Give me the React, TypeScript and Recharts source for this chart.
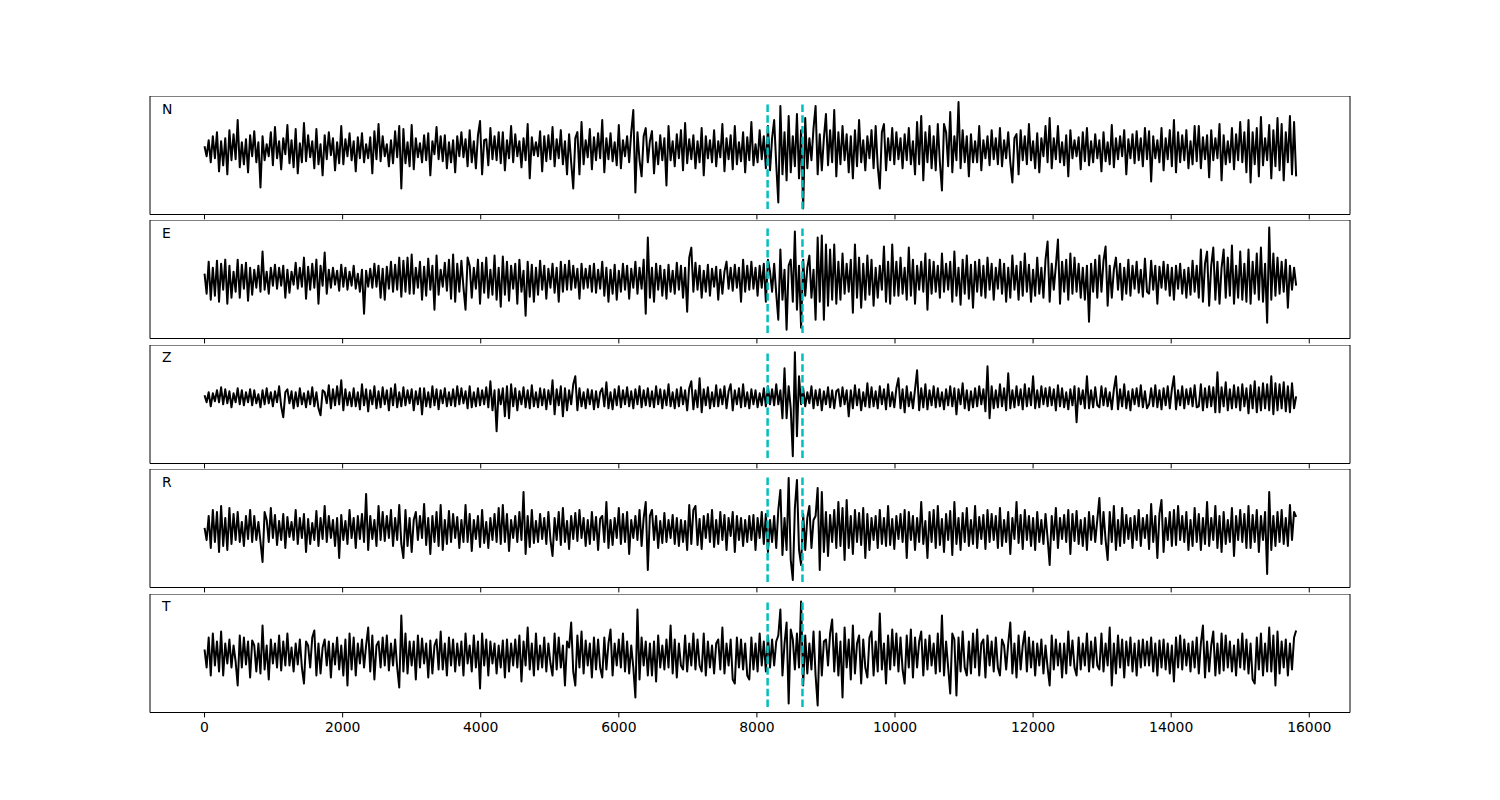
import { LineChart, Line, XAxis, YAxis, ReferenceLine, ReferenceArea } from "recharts";

// sample spacing of the traces (time units on the x axis)
const DT = 30;
const xTicks = [0, 2000, 4000, 6000, 8000, 10000, 12000, 14000, 16000];
const picks = [8155, 8660];

const traceN = [
  4, -6, 10, -12, 14, -8, 18, -21, 9, -15, 12, -24, 20, -10, 16, -9, 30, -17, 8, -14, 11, -22, 15, -6,
  19, -12, 8, -37, 14, -10, 6, -6, 18, -15, 23, -8, 9, -19, 12, -4, 25, -13, 10, -17, 21, -23, 7, -12,
  27, -11, 15, -7, 9, -18, 21, -14, 6, -25, 15, -9, 18, -5, 12, -20, 8, -13, 24, -14, 11, -6, 17, -10,
  9, -21, 13, -8, 17, -12, 6, -8, 13, -23, 19, -9, 26, -11, 14, -6, 6, -16, 10, -13, 19, -7, 24, -38,
  21, -13, 8, -16, 25, -19, 12, -7, 7, -12, 15, -10, 17, -25, 9, -4, 23, -9, 14, -11, 15, -18, 8, -12,
  10, -22, 14, -6, 18, -7, 11, -16, 20, -12, 9, -18, 15, 29, -24, 10, 11, -15, 22, -9, 14, -10, 18, -13,
  18, -20, 10, -8, 24, -12, 16, -6, 9, -17, 12, -10, 26, -28, 13, -5, 8, -6, 19, -21, 14, -11, 15, -9,
  23, -16, 11, -8, 20, -14, 9, -24, 16, -12, -38, 12, 18, -24, 28, -14, 10, -7, 21, -19, 13, -10, 17, -8,
  30, -22, 12, -9, 17, -11, 8, -15, 25, -18, 10, -6, 14, -12, 18, 40, -42, 18, -10, -26, 14, 22, -12, 9,
  19, -23, 8, -14, 15, -10, 12, -35, 24, -10, 9, -16, 16, -8, 20, -20, 27, -13, 11, -9, 15, -18, 9, -12,
  22, -25, 14, -8, 10, -12, 20, -16, 9, -7, 26, -21, 12, -9, 15, -19, 24, -14, 8, -11, 18, -22, 13, -10,
  28, -15, 6, -12, 20, -9, 14, -18, 24, -20, 12, 30, -14, -52, 44, -24, 18, -30, 34, -22, 14, -16, 36, -28,
  20, -58, 32, -18, 12, -10, 22, 44, -24, 16, -20, 12, 36, -15, 20, -12, 40, -26, 18, -14, 24, -10, 16, -22,
  14, -28, 20, -16, 30, -12, 10, -20, 14, -8, 20, -18, 24, -16, -38, 18, 26, -20, 12, -10, 22, -14, 18, -9,
  12, -18, 16, -10, 22, -14, 9, -24, 28, -14, 34, -30, 18, -12, 24, -18, 14, -20, 26, -12, -40, 26, 18, -16,
  38, -22, 14, -10, 48, -18, 20, -12, 14, -26, 16, -12, 9, -12, 24, -20, 10, -8, 14, -15, 20, -9, 12, -14,
  22, -16, 10, -8, 18, -12, -32, 12, 16, -24, 20, -10, 14, -14, 26, -10, 9, -18, 17, -22, 12, -6, 24, -12,
  32, -18, 12, -9, 24, -12, 8, -15, 15, -26, 20, -8, 10, -6, 13, -19, 18, -11, 22, -15, 9, -12, 16, -8,
  10, -21, 18, -11, 8, -14, 25, -17, 12, -9, 14, -6, 20, -24, 11, -8, 16, -13, 19, -10, 12, -16, 22, -9,
  19, -31, 14, -8, 10, -12, 22, -20, 12, -9, 20, -16, 30, -22, 18, -12, 15, -10, 20, -18, 9, -14, 24, -11,
  24, -18, 13, -9, 15, -27, 20, -10, 12, -8, 26, -30, 15, -14, 9, -12, 22, -19, 16, -10, 28, -12, 18, -22,
  30, -32, 18, -14, 22, -26, 33, -15, 12, -10, 25, -28, 20, -16, 32, -20, 26, -30, 18, -12, 34, -24, 28, -26,
];

const traceE = [
  6, -14, 18, -20, 12, -16, 19, -22, 16, -10, 20, -24, 14, -18, 8, -12, 20, -18, 15, -9, 17, -21, 12, -15,
  10, -8, 14, -12, 28, -10, 8, -14, 12, -6, 15, -9, 12, -6, 14, -18, 10, -13, 8, -5, 17, -9, 12, -7,
  22, -19, 13, -10, 16, -8, 20, -24, 14, -6, 27, -14, 10, -8, 12, -5, 9, -11, 15, -7, 12, -10, 8, -6,
  14, -9, 6, -12, 10, -34, 9, -7, 11, -8, 16, -7, 14, -18, 11, -20, 13, -9, 18, -12, 15, -10, 22, -17,
  19, -12, 22, -14, 25, -14, 12, -8, 18, -20, 13, -16, 21, -10, 14, -30, 24, -15, 10, -7, 17, -11, 20, -19,
  25, -22, 16, -12, 19, -8, -30, 22, 14, -18, 12, -9, 20, -24, 17, -13, 22, -18, 10, -15, 24, -20, 12, -27,
  23, -15, 18, -21, 14, -9, 16, -24, 20, -12, 9, -36, 18, -17, 15, -22, 12, -15, 19, -10, 14, -19, 11, -8,
  16, -13, 12, -22, 18, -12, 15, -10, 19, -10, 14, -8, 11, -19, 16, -9, 11, -8, 14, -12, 16, -13, 10, -9,
  18, -16, 12, -22, 10, -14, 15, -20, 9, -12, 16, -10, 14, -19, 11, -8, 18, -14, 12, -9, 20, -34, 42, -18,
  12, -22, 16, -10, 14, -16, 10, -19, 15, -12, 9, -14, 17, -10, 14, -18, 12, -32, 22, 32, -12, 17, -10, 14,
  -18, 9, -12, 15, -16, 11, -7, 13, -20, 10, -14, 8, 18, -9, 12, -11, 15, -8, 12, -22, 20, -12, 14, -10,
  18, -9, 12, -16, 14, -8, 16, -22, 20, 8, -12, 16, -14, -40, 30, -20, 10, -50, 14, 20, -22, 48, -30, 14,
  -48, 20, -16, 12, 24, -18, 10, -40, 42, -22, 44, -40, 35, -26, 30, -20, 35, -24, 18, -20, 26, -14, 16, -12,
  20, -33, 35, -18, 22, -28, 16, -20, 24, -15, 20, -26, 12, -18, 14, -10, 33, -22, 18, -24, 35, -16, 18, -16,
  22, -14, 12, -20, 32, -16, 20, -24, 14, -10, 18, -12, 26, -30, 20, -14, 18, -12, 14, -18, 26, -12, 16, -10,
  18, -22, 28, -16, 12, -25, 20, -14, 24, -19, 15, -28, 18, -12, 20, -16, 14, -18, 22, -10, 16, -20, 12, -9,
  20, -14, 16, -22, 12, -18, 24, -10, 14, -20, 18, -16, 26, -12, 15, -22, 10, -16, 22, -14, 12, -18, 20, 38,
  -22, 16, -10, 14, 40, -24, 18, -12, 20, -20, 26, -14, 22, -12, 16, -18, 12, -20, 14, -42, 16, -12, 20, -18,
  24, -12, 19, 33, -26, 14, -18, 10, 22, -10, 16, -20, 12, -14, 20, -16, 14, -9, 18, -13, 10, -17, 21, -12,
  -14, 19, -10, 14, -24, 13, -8, 18, -10, 15, -16, 12, -20, 14, -9, 16, -14, 10, -18, 12, -15, 19, -12, 14,
  -18, 30, -22, 16, 28, -26, 14, 32, -20, 18, -24, 12, 30, -18, 22, -16, 34, -24, 14, -18, 28, -20, 16, -22,
  30, -24, 18, -14, 26, -20, 32, -22, 16, -43, 52, -20, 26, -16, 22, -14, 18, -12, 20, -28, 14, -10, 12, -6,
];

const traceZ = [
  3, -4, 6, -8, 5, -3, 8, -4, 11, -6, 9, -5, 7, -9, 5, -4, 10, -6, 8, -7, 6, -4, 9, -7,
  8, -5, 4, -9, 8, -6, 10, -5, 6, -8, 7, -4, 12, -8, -19, 6, 9, -5, 7, -10, 6, -8, 10, -6,
  5, -9, 7, -6, 11, -8, 6, -10, -17, 8, 6, -5, 13, -10, 9, -7, 12, -6, 18, -12, 9, -7, 6, -8,
  10, -8, 6, -11, 14, -7, 9, -13, 8, -6, 12, -10, 7, -9, 11, -6, 8, -12, 10, -7, 14, -9, 6, -8,
  11, -7, 8, -5, 9, -12, 7, -6, 10, -16, 10, -8, 6, -9, 12, -7, 9, -11, 8, -5, 10, -8, 6, -7,
  9, -8, 12, -6, 10, -5, 7, -10, 12, -9, 6, -8, 10, -7, 8, -6, 11, -9, 17, -12, 8, -33, 9, -6,
  10, -18, 12, -20, 14, -8, 10, -12, 7, -6, 11, -9, 8, -10, 13, -8, 6, -9, 10, -7, 9, -11, 8, -6,
  18, -16, 9, -7, 12, -18, 10, -12, 8, -6, 14, 22, -12, 10, -8, 6, -10, 9, -6, 8, -11, 7, -9, 6,
  10, -8, 16, -10, 6, -11, 9, -7, 12, -9, 8, -6, 11, -8, 7, -10, 9, -6, 12, -9, 8, -7, 10, -8,
  7, -9, 12, -6, 9, -10, 8, -7, 14, -8, 6, -10, 9, -8, 11, -6, 8, -12, 10, 17, -11, 8, -9, 20,
  -14, 9, -7, 11, -10, 6, -8, 13, -8, 9, -6, 12, -10, 7, 14, -12, 8, -6, 10, -9, 14, -8, 6, -10,
  9, -6, 8, -9, 5, -7, 10, -8, 12, -6, 9, -7, 14, -6, 8, -20, 30, -20, 12, -10, -58, 46, -38, 22,
  -6, 10, -8, 6, -5, 12, -10, 8, -7, 9, -12, 7, -6, 11, -9, 8, -10, 7, 9, -8, 11, -6, 8, -18,
  8, -10, 13, -7, 9, -12, 6, -8, 15, -9, 11, -8, 7, -10, 12, -6, 9, -11, 14, -8, 6, -9, 10, 20,
  -10, 9, -14, 12, -8, 6, -10, 9, 28, -12, 10, -9, 14, -11, 8, -7, 12, -9, 10, -8, 6, -11, 9, -7,
  12, -8, 10, -16, 9, -6, 15, -10, 8, -12, 7, -9, 10, -8, 12, -6, 9, -13, 32, -20, 12, -10, 8, -9,
  14, -8, 10, -12, 25, -10, 8, -9, 12, -7, 9, -11, 14, -8, 10, -7, 22, -10, 8, -9, 12, -6, 10, -8,
  11, -7, 9, -12, 13, -8, 10, -9, 6, -11, 9, -7, 12, -24, 10, -6, 8, -10, 22, -10, 8, -9, 11, -7,
  -9, 12, -7, 10, -8, 6, -11, 9, 22, -11, 9, -8, 14, -10, 7, -12, 9, -6, 10, -8, 13, -9, 7, -10,
  -6, 10, -8, 13, -9, 8, -11, 10, -7, 12, -10, 9, 22, -11, 8, -7, 12, -10, 9, -6, 10, -8, 13, -9,
  -8, 14, -12, 10, -9, 12, -8, 11, -14, 26, -14, 11, -8, 16, -12, 9, -10, 13, -9, 11, -12, 14, -8, 10,
  -15, 13, -10, 17, -14, 11, -12, 15, -10, 14, -12, 22, -16, 15, -12, 14, -10, 16, -13, 12, -14, 15, -10, 2,
];

const traceR = [
  2, -10, 14, -18, 20, -12, 18, -22, 24, -16, 12, -20, 22, -14, 16, -10, 18, -12, 8, -16, 14, -9, 20, -12,
  14, -10, 8, -12, -32, 18, 10, -12, 22, -8, 15, -15, 9, -10, 16, -18, 13, -7, 8, -10, 20, -14, 12, -8,
  16, -22, 11, -14, 7, -10, 19, -16, 12, -9, 24, -12, 14, -8, 10, -16, 12, -28, 15, -10, 9, -14, 20, -8,
  12, -18, 14, -9, 16, -12, 36, -20, 14, -9, 10, -16, 24, -10, 18, -11, 14, -8, 20, -16, 12, -10, 25, -14,
  -28, 20, -16, 12, -22, 10, 18, -10, 14, -8, 26, -15, 12, -24, 14, -12, 18, -16, 25, -20, 10, -14, 19, -12,
  16, -8, 13, -18, 10, -12, 25, -12, 16, -21, 10, -9, 14, -17, 20, -13, 8, -18, 12, -10, 16, -12, 22, -14,
  25, -12, 16, -21, 10, -8, 14, -12, 18, -10, 38, -24, 14, -17, 20, -13, 9, -12, 16, -9, 12, -14, 18, -10,
  -26, 12, -10, 18, -15, 22, -12, 9, -19, 14, -9, 17, -11, 20, -8, 12, -16, 10, -14, 18, -10, 13, -20, 11,
  14, -12, 28, -18, 10, -15, 12, -8, 22, -14, 16, -12, 18, -24, 10, -8, 14, -10, 20, -16, 12, 28, -40, 14,
  20, -10, 14, -18, 9, -13, 17, -12, 10, -8, 15, -14, 12, -16, 10, -12, 9, -20, 25, -14, 20, 24, -15, 11,
  -19, 14, -8, 16, -12, 20, -17, 10, -14, 18, -10, 15, -20, 12, -6, 18, -22, 14, -10, 12, -16, 10, -12, 14,
  -10, 15, -20, 12, -8, 18, -14, 16, -22, 10, -12, 14, -18, 20, 40, -25, 12, -20, 52, -30, -50, 22, 50, -20,
  -35, 16, -20, 12, 24, -18, 10, 14, 42, -40, 38, -22, 18, -26, 15, -12, 20, -18, 28, -16, 22, -30, 30, -18,
  14, -24, 20, -12, 17, -15, 22, -28, 16, -20, 12, -10, 14, -18, 20, -14, 12, -16, 24, -15, 11, -19, 14, -9,
  16, -12, 20, -28, 18, -10, 14, -20, 12, -12, 28, -14, 9, -28, 18, -12, 20, -18, 24, -15, 11, -22, 16, -10,
  19, -25, 28, -14, 12, -20, 17, -12, 22, -16, 10, -14, 24, -18, 13, -9, 15, -19, 20, -12, 16, -10, 14, -18,
  22, -16, 10, -12, 18, -24, 12, -9, 28, -13, 15, -19, 20, -10, 14, -16, 12, -20, 18, -12, 10, -14, 16, -8,
  -35, 14, -10, 22, -18, 12, -9, 15, -12, 20, -24, 16, -11, 19, -14, 10, -16, 12, -20, 18, -10, 14, -12, 10,
  32, -14, 18, -10, -30, 18, -12, 24, -20, 10, -16, 22, -13, 15, -9, 12, -18, 14, -10, 20, -16, 12, -8, 15,
  -19, 26, -12, 14, -28, 16, 30, -22, 12, -10, 18, -16, 20, -15, 24, -10, 14, -12, 18, -20, 10, -16, 22, -12,
  16, -20, 12, -14, 28, -16, 12, -10, 24, -18, 14, -22, 18, -14, 10, -12, 22, -26, 14, -10, 20, -12, 16, -18,
  24, -18, 15, -12, 20, -22, 14, -10, 18, -44, 38, -20, 14, -16, 18, -12, 20, -14, 12, -16, 25, -10, 18, 13,
];

const traceT = [
  6, -12, 18, -20, 22, -10, 14, -16, 24, -20, 12, -8, 16, -12, 10, -6, -30, 20, -12, 18, -9, 14, -22, 15,
  10, -16, 12, -18, 30, -14, 10, -24, 16, -8, 12, -12, 20, -15, 14, -10, 22, -10, 8, -16, 12, -9, 16, -12,
  -28, 14, 10, -12, 18, 25, -20, 12, -18, 8, 16, -10, 14, -22, 12, -9, 18, -14, 10, -20, 16, -30, 22, -14,
  18, -20, 12, -8, 16, -12, 10, 28, -16, 20, -24, 10, 14, -12, 18, -10, 20, -15, 12, -10, 16, -12, -32, 40,
  -16, 22, -18, 14, -10, 14, -24, 20, -12, 17, -8, 12, -22, 15, -18, 10, 16, -14, 24, -14, 12, -20, 18, -10,
  16, -16, 12, -10, 14, -20, 22, -8, 10, -16, 20, -12, 14, -33, 22, -10, 16, -20, 14, -8, 12, -18, 10, -12,
  15, -22, 16, -16, 12, -10, 16, -12, 20, -26, 14, -10, 28, -14, 12, -20, 22, -14, 10, -12, 18, -16, 12, -8,
  -20, 22, -14, 18, -12, 10, -30, 14, 8, 33, -16, -30, 20, -12, 24, -18, 15, -10, 12, -22, 18, -14, 16, -12,
  -22, 18, -14, 12, 26, -20, 12, -10, 16, -12, 22, -16, 14, -18, 10, -12, -42, 46, -24, 18, -10, 14, -20, 12,
  -20, 14, -26, 20, -12, 10, -14, 16, -12, 30, -18, 16, -22, 12, -10, -14, 20, -16, 12, -10, 22, -14, 16, -10,
  -16, 22, -20, 14, -12, 10, -18, 12, 16, -14, 28, -18, 12, -10, 16, -24, -28, 18, -12, 16, -14, 12, -20, -24,
  18, -14, 12, -16, 22, -10, 14, -16, 20, -12, 16, -10, 14, 20, 46, -20, 12, 33, -48, 26, 16, -14, 22, -12,
  54, -30, 20, -18, 12, -14, 24, -20, -50, 24, -20, 14, 16, -10, 22, 36, -16, 22, -20, 14, -42, 28, -12, 16,
  -24, 30, -18, 12, 20, -28, 16, -12, -22, 18, 24, -20, 14, -16, 42, -14, 12, -28, 20, -14, 26, -10, 22, -16,
  18, -14, -28, 20, -12, 26, -22, 18, -12, 14, 24, -20, 16, -14, 20, -10, 12, -18, 22, -16, 40, -20, 14, -12,
  -38, 22, 16, -40, 18, -16, 24, -12, -20, 14, -18, 22, -12, 26, -20, 12, 16, -22, 20, -10, 14, -16, 18, -12,
  -20, 16, 10, -14, 12, 33, -18, 12, -22, 20, -14, 10, 24, -16, 18, -12, 14, -20, 12, -10, 16, -18, 10, -12,
  -30, 20, -14, 16, -10, 12, -22, 12, -18, 24, -10, 15, -12, -20, 18, -14, 12, -10, 22, -16, 14, -12, 18, -10,
  -14, 22, -16, 12, -10, 28, -30, 12, -18, 20, -12, 16, -22, 14, -10, 18, -16, 12, -20, 15, -12, 16, -10, 14,
  -10, 18, -16, 12, -20, 15, -12, 16, -14, 12, -18, 10, -26, 18, -12, 20, -14, 16, -10, 12, -16, 14, -12, 18,
  -18, 12, 30, -22, 14, -16, 10, 24, -20, 12, -18, 22, -15, 20, -12, 14, -16, 10, -20, 16, -12, 22, -14, 16,
  -18, 12, -24, -28, 18, -14, 22, -20, 12, -16, 28, -16, 20, -30, 24, -18, 14, -12, 16, -20, 12, -14, 18, 25,
];

// y extent of each trace (the dashed picks span it), in the same units as the values
const panels = [
  { label: "N", values: traceN, ymin: -58.6, ymax: 48.6 },
  { label: "E", values: traceE, ymin: -53.4, ymax: 54.2 },
  { label: "Z", values: traceZ, ymin: -59.8, ymax: 47.9 },
  { label: "R", values: traceR, ymin: -52.1, ymax: 55.5 },
  { label: "T", values: traceT, ymin: -51.6, ymax: 56.1 },
];

const W = 1500;
const LEFT = 150;
const RIGHT = 150;
const PANEL_H = 118.5;
const PANEL_TOPS = [96, 220.4, 344.7, 469.1, 593.5];
const X_DOMAIN: [number, number] = [-790, 16590];
const FONT = "'DejaVu Sans', sans-serif";

function Panel({ label, values, ymin, ymax, top, last }: {
  label: string; values: number[]; ymin: number; ymax: number; top: number; last: boolean;
}) {
  const pad = 0.05 * (ymax - ymin);
  const lo = ymin - pad;
  const hi = ymax + pad;
  const axisH = last ? 40 : 6;
  const data = values.map((v, i) => ({ t: i * DT, v }));
  return (
    <div style={{ position: "absolute", left: 0, top, width: W, height: PANEL_H + axisH }}>
      <LineChart width={W} height={PANEL_H + axisH} data={data} margin={{ top: 0, right: RIGHT, bottom: 0, left: LEFT }}>
        <XAxis
          type="number"
          dataKey="t"
          domain={X_DOMAIN}
          ticks={xTicks}
          interval={0}
          allowDataOverflow
          height={axisH}
          stroke="#000"
          tickSize={4.9}
          tickMargin={5}
          tick={{ fill: "#000", fontSize: 13.9, fontFamily: FONT }}
          tickFormatter={last ? (v: number) => String(v) : () => ""}
        />
        <YAxis hide type="number" domain={[lo, hi]} allowDataOverflow />
        <ReferenceArea x1={X_DOMAIN[0]} x2={X_DOMAIN[1]} y1={lo} y2={hi} fill="none" stroke="#000" strokeWidth={1} ifOverflow="visible" />
        <Line
          type="linear"
          dataKey="v"
          stroke="#000"
          strokeWidth={2}
          strokeLinejoin="round"
          dot={false}
          isAnimationActive={false}
        />
        {picks.map((p) => (
          <ReferenceLine
            key={p}
            segment={[{ x: p, y: ymin }, { x: p, y: ymax }]}
            stroke="#00bfbf"
            strokeWidth={2.5}
            strokeDasharray="7.5 3.3"
            ifOverflow="visible"
          />
        ))}
      </LineChart>
      <div style={{ position: "absolute", left: 162, top: 6.7, fontFamily: FONT, fontSize: 13.9, lineHeight: "13.9px", color: "#000" }}>
        {label}
      </div>
    </div>
  );
}

export default function App() {
  return (
    <div style={{ position: "absolute", left: 0, top: 0, width: W, height: 800, background: "#fff" }}>
      {panels.map((p, i) => (
        <Panel key={p.label} {...p} top={PANEL_TOPS[i]} last={i === panels.length - 1} />
      ))}
    </div>
  );
}
